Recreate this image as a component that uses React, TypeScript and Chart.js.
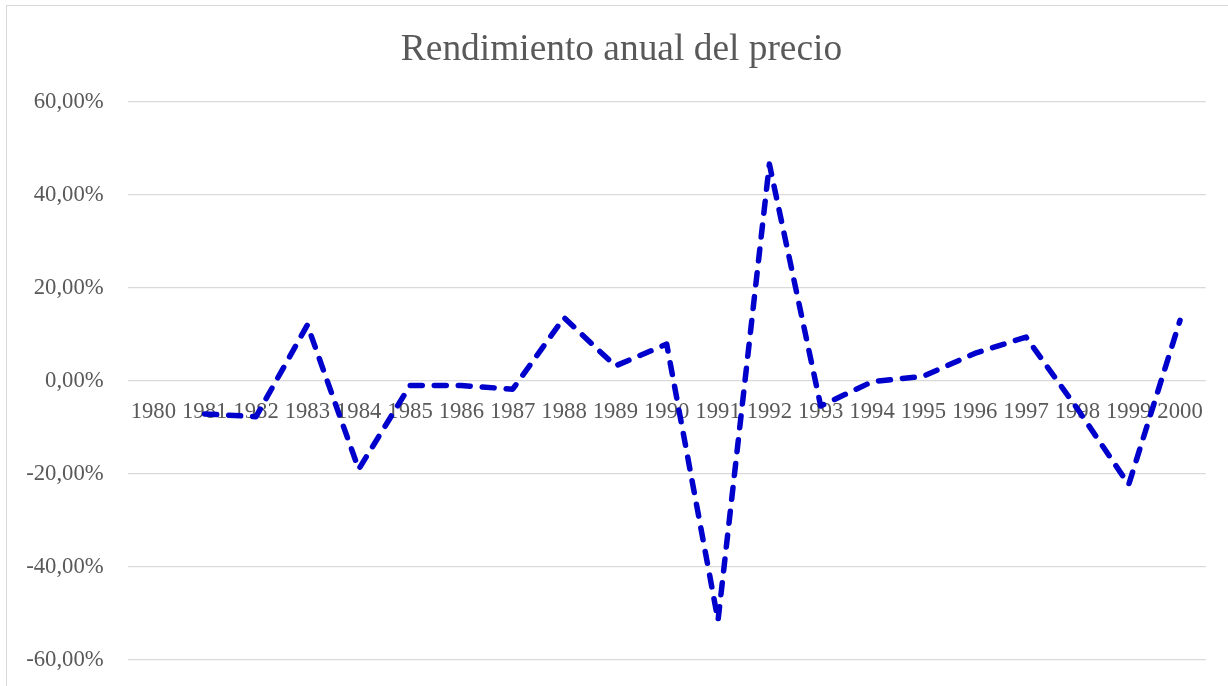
import React, { useEffect, useRef } from "react";
import { Chart, registerables } from "chart.js";

Chart.register(...registerables);

const years = ["1980","1981","1982","1983","1984","1985","1986","1987","1988","1989","1990","1991","1992","1993","1994","1995","1996","1997","1998","1999","2000"];
const returns = [null, -7.1, -7.7, 12.0, -19.0, -1.0, -1.0, -1.8, 13.6, 3.2, 7.9, -51.5, 46.6, -5.4, -0.2, 1.0, 5.9, 9.4, -6.0, -22.3, 13.0];
const yTicks = [-60, -40, -20, 0, 20, 40, 60];
const title = "Rendimiento anual del precio";

const fmt = (v: number) => v.toFixed(2).replace(".", ",") + "%";

const titlePlugin = {
  id: "excelTitle",
  afterDraw(chart: any) {
    const ctx = chart.ctx;
    ctx.save();
    ctx.font = "normal 37.4px 'Liberation Serif', 'Times New Roman', serif";
    ctx.fillStyle = "#595959";
    ctx.textAlign = "center";
    ctx.textBaseline = "alphabetic";
    ctx.fillText(title, 621.5, 60);
    ctx.restore();
  },
};

export default function App() {
  const ref = useRef<HTMLCanvasElement | null>(null);
  useEffect(() => {
    if (!ref.current) return;
    const chart = new Chart(ref.current, {
      type: "line",
      data: {
        labels: years,
        datasets: [
          {
            data: returns,
            borderColor: "#0000CC",
            borderWidth: 5.5,
            borderDash: [12, 12],
            borderCapStyle: "round",
            borderJoinStyle: "round",
            pointRadius: 0,
            tension: 0,
            fill: false,
          },
        ],
      },
      plugins: [titlePlugin],
      options: {
        animation: false,
        responsive: false,
        layout: { padding: { top: 101.7, left: 0, right: 22.3, bottom: 26 } },
        plugins: {
          legend: { display: false },
          tooltip: { enabled: false },
          title: { display: false },
        },
        scales: {
          x: {
            type: "category",
            offset: true,
            position: { y: 0 } as any,
            afterFit: (scale: any) => {
              scale.height = 0;
            },
            grid: { display: false, drawTicks: false },
            border: { display: false },
            ticks: {
              autoSkip: false,
              maxRotation: 0,
              minRotation: 0,
              padding: 18,
              color: "#595959",
              font: { family: "'Liberation Serif', 'Times New Roman', serif", size: 22.7 },
            },
          },
          y: {
            min: -60,
            max: 60,
            afterBuildTicks: (scale: any) => {
              scale.ticks = yTicks.map((v) => ({ value: v }));
            },
            afterFit: (scale: any) => {
              scale.width = 127.7;
              scale.paddingTop = 0;
              scale.paddingBottom = 0;
            },
            grid: { color: "#d9d9d9", lineWidth: 1.2, drawTicks: false },
            border: { display: false },
            ticks: {
              padding: 24,
              color: "#595959",
              font: { family: "'Liberation Serif', 'Times New Roman', serif", size: 22.7 },
              callback: (v: any) => fmt(Number(v)),
            },
          },
        },
      },
    });
    return () => chart.destroy();
  }, []);
  return (
    <div style={{ position: "fixed", left: 0, top: 0, width: 1228, height: 686, background: "#fff", overflow: "hidden" }}>
      <div style={{ position: "absolute", left: 6, top: 5, width: 1230, height: 700, border: "1.5px solid #d9d9d9", boxSizing: "border-box" }} />
      <canvas ref={ref} width={1228} height={686} style={{ position: "absolute", left: 0, top: 0 }} />
    </div>
  );
}
